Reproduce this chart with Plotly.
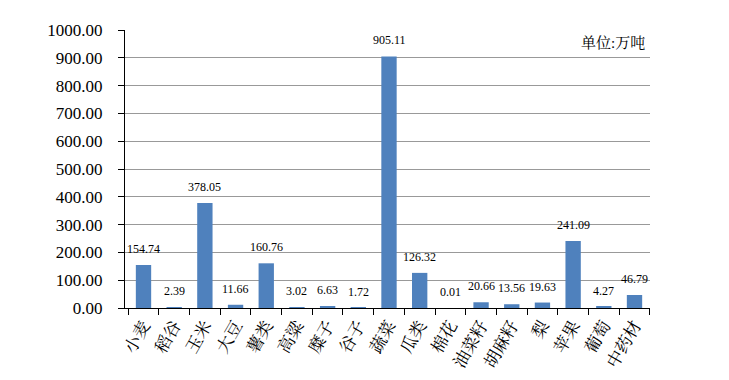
import plotly.graph_objects as go

categories = ["小麦", "稻谷", "玉米", "大豆", "薯类", "高粱", "糜子", "谷子", "蔬菜",
              "瓜类", "棉花", "油菜籽", "胡麻籽", "梨", "苹果", "葡萄", "中药材"]
values = [154.74, 2.39, 378.05, 11.66, 160.76, 3.02, 6.63, 1.72, 905.11,
          126.32, 0.01, 20.66, 13.56, 19.63, 241.09, 4.27, 46.79]
y_ticks = [0, 100, 200, 300, 400, 500, 600, 700, 800, 900, 1000]

FONT = "'Liberation Serif', 'Noto Serif CJK SC', 'Noto Sans CJK SC', serif"

fig = go.Figure()
fig.add_trace(go.Bar(
    x=categories, y=values,
    marker=dict(color="#4F81BD", line=dict(width=0)),
    cliponaxis=False,
))

annotations = [
    dict(x=c, y=v, xref="x", yref="y", text=f"{v:.2f}",
         showarrow=False, yanchor="bottom", yshift=7,
         font=dict(family=FONT, size=12, color="#000000"))
    for c, v in zip(categories, values)
]
annotations.append(dict(
    text="单位:万吨", xref="paper", yref="paper",
    x=0.995, y=0.955, xanchor="right", yanchor="middle",
    showarrow=False, font=dict(family=FONT, size=15),
))

fig.update_layout(
    width=721, height=372,
    margin=dict(l=117, r=79, t=22, b=72),
    paper_bgcolor="white", plot_bgcolor="white",
    bargap=0.5,
    showlegend=False,
    font=dict(family=FONT, color="#000000"),
    xaxis=dict(
        type="category",
        tickangle=-60,
        tickfont=dict(family=FONT, size=17),
        showline=True, linecolor="#000000", linewidth=1,
        ticks="outside", ticklen=6, tickcolor="#000000",
        tickson="boundaries",
        showgrid=False,
        automargin=False,
    ),
    yaxis=dict(
        range=[0, 1000],
        tickvals=y_ticks,
        ticktext=[f"{v:.2f}" for v in y_ticks],
        tickfont=dict(family=FONT, size=17),
        showline=True, linecolor="#000000", linewidth=1,
        ticks="outside", ticklen=6, tickcolor="#000000",
        ticklabelstandoff=12,
        showgrid=True, gridcolor="#999999", gridwidth=1,
        zeroline=False,
        automargin=False,
    ),
    annotations=annotations,
)
fig.write_html("out.html")
